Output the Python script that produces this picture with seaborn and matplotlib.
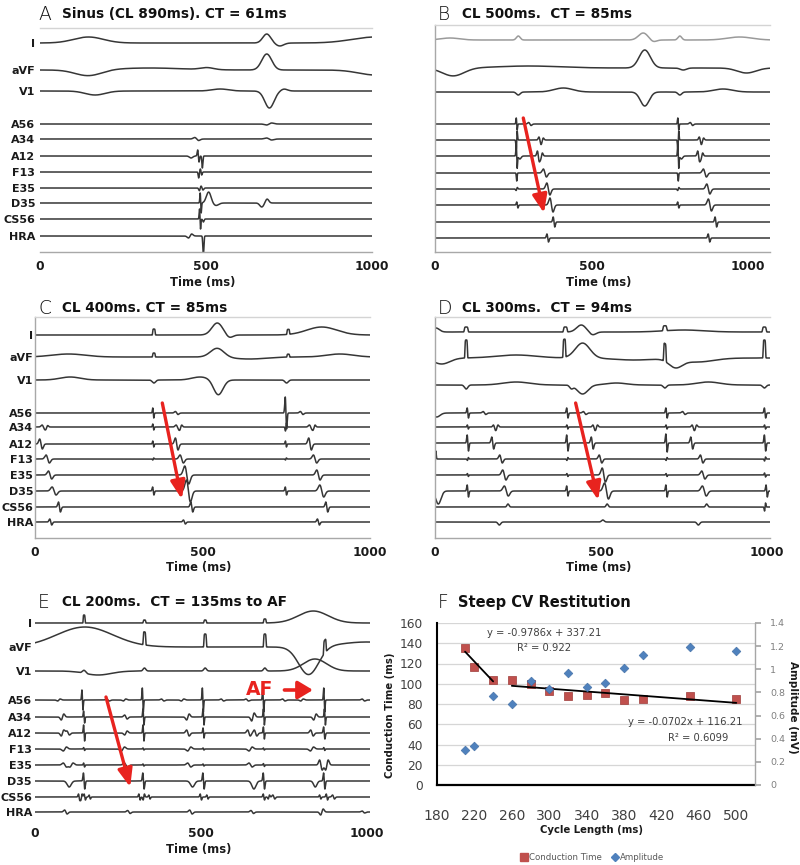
import numpy as np
import pandas as pd
import matplotlib
matplotlib.use("Agg")
import matplotlib.pyplot as plt
from matplotlib.lines import Line2D
import seaborn as sns

# ---------------------------------------------------------------- data
CHANNELS = ["I", "aVF", "V1", "A56", "A34", "A12", "F13", "E35", "D35", "CS56", "HRA"]

TITLES = {
    "A": "Sinus (CL 890ms). CT = 61ms",
    "B": "CL 500ms.  CT = 85ms",
    "C": "CL 400ms. CT = 85ms",
    "D": "CL 300ms.  CT = 94ms",
    "E": "CL 200ms.  CT = 135ms to AF",
    "F": "Steep CV Restitution",
}
TIME_TICKS = [0, 500, 1000]

# deflections: (time ms, amplitude px, width ms, kind)
# kind: g = smooth wave, d = biphasic deflection, p = pacing plateau
EVENTS_A = {
    "I":   [(146, 6, 45, "g"), (683, 9, 12, "g"), (722, -3, 12, "g"), (1010, 6, 70, "g")],
    "aVF": [(146, -6, 40, "g"), (330, 2, 100, "g"), (503, 2, 20, "g"), (683, 16, 15, "g"), (1010, -5, 50, "g")],
    "V1":  [(166, -4, 30, "g"), (543, 2, 25, "g"), (691, -17, 14, "g"), (735, 2, 10, "g")],
    "A56": [(690, -1, 8, "d")],
    "A34": [(472, 1.5, 6, "d"), (690, 1, 8, "d")],
    "A12": [(455, -2, 5, "g"), (477, 6, 2, "d"), (489, -12, 1.5, "g")],
    "F13": [(478, -6, 1.5, "g"), (485, 3, 2, "d")],
    "E35": [(480, -3, 2, "g"), (488, 2, 3, "d")],
    "D35": [(484, 10, 1.5, "d"), (508, 11, 7, "g"), (530, -2.5, 8, "g"), (668, -4, 6, "g"), (684, 4, 5, "g")],
    "CS56": [(482, 10, 1.5, "d"), (492, -3, 2, "g")],
    "HRA": [(452, -2, 5, "d"), (492, -20, 1.5, "g")],
}
EVENTS_B = {
    "I":   [(48, 2, 30, "g"), (266, 4, 6, "g"), (665, 7, 15, "g"), (697, -2, 10, "g"), (782, 4, 6, "g"), (973, 3, 40, "g")],
    "aVF": [(58, -8, 35, "g"), (300, 2, 100, "g"), (670, 18, 18, "g"), (793, -2, 10, "g"), (995, -5, 30, "g")],
    "V1":  [(266, -3, 6, "g"), (410, 4, 30, "g"), (670, -14, 14, "g"), (782, -3, 6, "g"), (920, 3, 30, "g")],
    "A56": [(261, 6, 1.5, "d"), (303, 1.5, 4, "d"), (777, 6, 1.5, "d"), (819, 1.5, 4, "d")],
    "A34": [(261, -9, 1.5, "d"), (335, 3, 3, "d"), (343, -2, 3, "d"), (777, -9, 1.5, "d"), (847, 3, 3, "d"), (855, -2, 3, "d")],
    "A12": [(261, 12, 1.5, "d"), (271, -3, 4, "g"), (330, 5, 3, "d"), (340, -3, 3, "d"),
            (777, 12, 1.5, "d"), (787, -3, 4, "g"), (842, 5, 3, "d"), (852, -3, 3, "d")],
    "F13": [(261, -8, 1.2, "g"), (351, 4, 5, "d"), (777, -8, 1.2, "g"), (862, 4, 5, "d")],
    "E35": [(261, -1.5, 2, "d"), (362, 6, 5, "d"), (777, -1.5, 2, "d"), (873, 5, 5, "d")],
    "D35": [(263, 3, 2, "d"), (372, 7, 5, "d"), (777, 3, 2, "d"), (878, 6, 5, "d")],
    "CS56": [(380, 5, 2.5, "d"), (897, 5, 2.5, "d")],
    "HRA": [(360, 4, 2.5, "d"), (875, 4, 2.5, "d")],
}
EVENTS_C = {
    "I":   [(355, 6, 4, "p"), (544, 12, 16, "g"), (580, -3, 10, "g"), (756, 5, 4, "p"), (856, 8, 45, "g")],
    "aVF": [(100, 3, 50, "g"), (355, 4, 4, "p"), (544, 9, 20, "g"), (640, -2, 50, "g"), (756, 3, 4, "p"), (910, 3, 40, "g")],
    "V1":  [(105, 3, 30, "g"), (355, -3, 5, "g"), (493, 3, 25, "g"), (547, -15, 14, "g"), (751, -3, 5, "g")],
    "A56": [(353, 5, 1.5, "d"), (423, 1.5, 4, "d"), (749, 16, 2, "d"), (796, 1.5, 4, "d")],
    "A34": [(25, 2, 4, "d"), (35, -1.5, 3, "d"), (353, 3, 1.5, "d"), (425, 2, 4, "d"), (435, -2, 3, "d"),
            (749, -4, 1.5, "d"), (823, 2, 4, "d"), (833, -2, 3, "d")],
    "A12": [(18, 5, 4, "d"), (353, 3, 1.5, "d"), (423, 6, 4, "d"), (749, 3, 1.5, "d"), (821, 6, 4, "d")],
    "F13": [(38, 4, 5, "d"), (353, -1, 1.5, "d"), (438, 4, 5, "d"), (749, -1, 1.5, "d"), (836, 4, 5, "d")],
    "E35": [(45, 4, 5, "d"), (453, 9, 6, "d"), (846, 5, 5, "d")],
    "D35": [(57, 4, 6, "d"), (353, 4, 2, "d"), (458, 11, 6, "d"), (749, 4, 2, "d"), (856, 6, 6, "d")],
    "CS56": [(73, 5, 3, "d"), (468, 5, 3, "d"), (871, 5, 3, "d")],
    "HRA": [(47, 3, 3, "d"), (446, 2, 3, "d"), (846, 3, 3, "d")],
}
EVENTS_D = {
    "I":   [(3, 4, 10, "g"), (94, 5, 6, "p"), (393, 5, 6, "p"), (441, 7, 14, "g"), (475, -3, 10, "g"),
            (693, 5, 6, "p"), (750, 2, 60, "g"), (993, 5, 6, "p")],
    "aVF": [(20, -6, 25, "g"), (94, 18, 4, "p"), (245, 3, 60, "g"), (390, 18, 4, "p"), (445, 15, 22, "g"),
            (600, -2, 60, "g"), (693, 18, 4, "p"), (725, -8, 20, "g"), (790, -4, 50, "g"), (993, 18, 4, "p")],
    "V1":  [(94, -4, 5, "g"), (245, 3, 40, "g"), (411, -3, 5, "g"), (445, -9, 16, "g"), (547, 2, 30, "g"),
            (693, -3, 5, "g"), (824, 3, 35, "g"), (993, -3, 5, "g")],
    "A56": [(5, -4, 10, "g"), (99, 5, 2, "d"), (149, 1.5, 4, "d"), (399, 5, 2, "d"), (451, 1.5, 4, "d"),
            (698, 5, 2, "d"), (750, 1.5, 4, "d"), (995, 5, 2, "d")],
    "A34": [(99, 2, 1.5, "d"), (179, 2, 3, "d"), (187, -2, 3, "d"), (399, 2, 1.5, "d"), (479, 2, 3, "d"),
            (487, -2, 3, "d"), (698, 2, 1.5, "d"), (778, 2, 3, "d"), (786, -2, 3, "d"), (995, 2, 1.5, "d")],
    "A12": [(99, 8, 2, "d"), (174, 6, 3, "d"), (399, 8, 2, "d"), (474, 6, 3, "d"), (698, 9, 2, "d"),
            (774, 6, 3, "d"), (995, 8, 2, "d")],
    "F13": [(1, -8, 1.5, "d"), (99, -1.5, 1.5, "d"), (199, 4, 4, "d"), (399, -1.5, 1.5, "d"), (499, 4, 4, "d"),
            (698, -1.5, 1.5, "d"), (804, 4, 4, "d"), (995, -2, 1.5, "d")],
    "E35": [(99, 1.5, 1.5, "d"), (209, 5, 5, "d"), (399, 1.5, 1.5, "d"), (509, 7, 5, "d"), (698, 1.5, 1.5, "d"),
            (809, 4, 5, "d"), (995, 2, 1.5, "d")],
    "D35": [(10, -13, 8, "g"), (99, 6, 2, "d"), (215, 5, 6, "d"), (399, 5, 2, "d"), (517, 8, 6, "d"),
            (698, 6, 2, "d"), (812, 5, 6, "d"), (1000, 6, 2, "d")],
    "CS56": [(220, 3, 3, "g"), (519, 3, 3, "g"), (819, 3, 3, "g"), (995, -4, 1.5, "d")],
    "HRA": [(194, -3, 4, "g"), (506, 2, 4, "g"), (794, -3, 4, "g")],
}
EVENTS_E = {
    "I":   [(148, 8, 3, "p"), (330, 3, 4, "p"), (513, 3, 4, "p"), (693, 4, 4, "p"), (839, 12, 45, "g")],
    "aVF": [(150, 20, 85, "g"), (330, 13, 4, "p"), (513, 13, 4, "p"), (693, 13, 4, "p"), (825, -28, 30, "g"),
            (874, 13, 4, "p"), (1000, 5, 80, "g")],
    "V1":  [(148, 3, 5, "g"), (190, -4, 40, "g"), (330, 3, 4, "g"), (513, 3, 4, "g"), (693, 3, 4, "g"), (844, 12, 35, "g")],
    "A56": [(72, -1, 4, "d"), (143, 10, 1.5, "d"), (220, 1, 4, "d"), (270, -1, 4, "d"), (325, 12, 1.5, "d"),
            (385, 1, 4, "d"), (445, -1, 4, "d"), (506, 12, 1.5, "d"), (565, 1, 4, "d"), (640, 1, 4, "d"),
            (688, 12, 1.5, "d"), (750, 1, 4, "d"), (805, -1, 4, "d"), (872, 12, 1.5, "d"), (990, 1, 4, "d")],
    "A34": [(83, -3, 4, "d"), (148, 6, 1.5, "d"), (274, 2, 4, "d"), (327, 8, 1.5, "d"), (461, -3, 4, "d"),
            (508, 8, 1.5, "d"), (657, -4, 4, "d"), (690, 8, 1.5, "d"), (844, -3, 4, "d"), (874, 8, 1.5, "d")],
    "A12": [(83, -3, 4, "d"), (100, 2, 4, "d"), (148, 8, 1.5, "d"), (274, -2, 4, "d"), (327, 8, 1.5, "d"),
            (461, 3, 4, "d"), (508, 5, 1.5, "d"), (645, 3, 4, "d"), (665, 3, 4, "d"), (690, 6, 1.5, "d"),
            (835, 3, 4, "d"), (872, 6, 2, "d")],
    "F13": [(90, -2, 5, "d"), (148, 1.5, 1.5, "d"), (265, -2, 5, "d"), (327, 1, 1.5, "d"), (465, -2, 5, "d"),
            (508, 1, 1.5, "d"), (650, -2, 5, "d"), (690, 1, 1.5, "d"), (835, -2, 5, "d"), (872, 1.5, 1.5, "d")],
    "E35": [(90, 2, 5, "d"), (110, -2, 5, "d"), (148, 2, 1.5, "d"), (274, 2, 5, "d"), (327, 1, 1.5, "d"),
            (465, 2, 5, "d"), (508, 1, 1.5, "d"), (650, 2, 5, "d"), (690, 1.5, 1.5, "d"), (862, 5, 4, "d"),
            (880, -5, 4, "d")],
    "D35": [(103, -6, 6, "g"), (148, 8, 2, "d"), (327, 8, 2, "d"), (475, -6, 6, "g"), (508, 8, 2, "d"),
            (660, -8, 6, "g"), (690, 8, 2, "d"), (845, -6, 5, "g"), (872, 8, 2, "d")],
    "CS56": [(133, 3, 2, "d"), (140, -3, 2, "d"), (150, 3, 2, "d"), (165, 2, 2, "d"), (315, 3, 2, "d"),
             (328, -3, 2, "d"), (345, 2, 2, "d"), (500, 3, 2, "d"), (520, 2, 2, "d"), (690, 3, 2, "d"),
             (705, -2, 2, "d"), (720, 2, 3, "d"), (860, 2, 2, "d"), (880, 3, 2, "d"), (900, 2, 3, "d")],
    "HRA": [(93, 2, 4, "d"), (283, 1.5, 4, "d"), (470, 2, 4, "d"), (655, 1.5, 4, "d"), (865, -3, 4, "d"), (990, 1, 4, "d")],
}

# panel F: restitution data
CYCLE_LENGTH = [210, 220, 240, 260, 280, 300, 320, 340, 360, 380, 400, 450, 500]
CONDUCTION_TIME = [135, 116.5, 104, 104, 100, 93, 88, 89, 91, 84, 85, 88, 85]
AMPLITUDE = [0.30, 0.34, 0.765, 0.70, 0.895, 0.83, 0.97, 0.85, 0.88, 1.01, 1.12, 1.19, 1.16]
TREND_STEEP = (-0.9786, 337.21, 210, 240)
TREND_FLAT = (-0.0702, 116.21, 260, 500)
TREND_TEXT = ["y = -0.9786x + 337.21", "R\u00b2 = 0.922", "y = -0.0702x + 116.21", "R\u00b2 = 0.6099"]
F_XTICKS = [180, 220, 260, 300, 340, 380, 420, 460, 500]
F_YTICKS = [0, 20, 40, 60, 80, 100, 120, 140, 160]
F_Y2TICKS = [0, 0.2, 0.4, 0.6, 0.8, 1.0, 1.2, 1.4]
F_Y2LABELS = ["0", "0.2", "0.4", "0.6", "0.8", "1", "1.2", "1.4"]

# ---------------------------------------------------------------- layout
W, H = 800, 865
sns.set_theme(style="white")
plt.rcParams["font.family"] = ["DejaVu Sans"]

fig = plt.figure(figsize=(W / 100, H / 100), dpi=100)
fig.patch.set_facecolor("white")


def add_ax(l, t, r, b):
    return fig.add_axes([l / W, 1 - b / H, (r - l) / W, (b - t) / H])


def synth(t, events):
    y = np.zeros_like(t)
    for t0, a, w, k in events:
        x = (t - t0) / w
        if k == "g":
            y += a * np.exp(-0.5 * x ** 2)
        elif k == "d":
            y += a * (-x) * np.exp(0.5 - 0.5 * x ** 2)
        else:
            y += a * np.exp(-x ** 6)
    return y


TRACE_C = "#363636"
RED = "#e8231f"

PANELS = [
    # letter, events, box (l,t,r,b), xmax, baselines, spines, labels x, arrow
    ("A", EVENTS_A, (40, 28, 372, 252), 1000,
     [43, 70, 91, 124, 139, 156, 172, 188, 203, 219, 236], ("top", "bottom"), 35, None),
    ("B", EVENTS_B, (435, 25, 770, 252), 1070,
     [40, 68, 92, 124, 140, 156, 173, 189, 205, 222, 238], ("top", "left", "bottom"), None,
     ((282, 118), (348, 213))),
    ("C", EVENTS_C, (35, 317, 370, 538), 1000,
     [335, 357, 380, 413, 427, 444, 459, 475, 491, 507, 522], ("top", "left", "bottom"), 33,
     ((380, 403), (438, 499))),
    ("D", EVENTS_D, (435, 317, 770, 538), 1010,
     [332, 358, 385, 413, 427, 443, 459, 475, 491, 507, 522], ("top", "left", "bottom"), None,
     ((424, 403), (492, 500))),
    ("E", EVENTS_E, (35, 607, 370, 825), 1010,
     [623, 647, 671, 700, 717, 733, 749, 765, 781, 797, 812], (), 32,
     ((214, 697), (287, 787))),
]
LABEL_Y = {"A": 282, "B": 282, "C": 567, "D": 567, "E": 850}
TITLE_Y = {"A": 14, "B": 14, "C": 308, "D": 308, "E": 602, "F": 602}
TITLE_X = {"A": 38, "B": 438, "C": 38, "D": 438, "E": 38, "F": 438}

for letter, events, (l, t, r, b), xmax, bases, spines, lab_x, arrow in PANELS:
    ax = add_ax(l, t, r, b)
    tt = np.arange(0, xmax + 0.25, 0.25)
    frames = []
    for ch, base in zip(CHANNELS, bases):
        frames.append(pd.DataFrame({"t": tt, "y": base - synth(tt, events[ch]), "ch": ch}))
    df = pd.concat(frames, ignore_index=True)
    pal = {ch: TRACE_C for ch in CHANNELS}
    if letter == "B":
        pal["I"] = "#9a9a9a"
    sns.lineplot(data=df, x="t", y="y", hue="ch", palette=pal, estimator=None, sort=False,
                 lw=1.1, legend=False, ax=ax)
    ax.set_xlim(0, xmax)
    ax.set_ylim(b, t)
    ax.set_facecolor("none")
    for s in ("top", "left", "right", "bottom"):
        ax.spines[s].set_visible(s in spines)
    ax.spines["top"].set_color("#d4d4d4")
    ax.spines["left"].set_color("#a8a8a8")
    ax.spines["bottom"].set_color("#a8a8a8")
    for s in ax.spines.values():
        s.set_linewidth(1.0)
    ax.set_yticks([])
    ax.set_xticks(TIME_TICKS)
    ax.set_xticklabels([str(v) for v in TIME_TICKS], fontweight="bold", fontsize=8.8, color="#1a1a1a")
    ax.tick_params(axis="x", length=(3 if spines else 0), color="#a8a8a8", pad=(3 if spines else 1.5))
    ax.set_ylabel("")
    ax.set_xlabel("Time (ms)", fontweight="bold", fontsize=8.3, color="#1a1a1a")
    ax.xaxis.set_label_coords(0.49, (b - LABEL_Y[letter]) / (b - t))
    ax.xaxis.label.set_va("center")
    if lab_x is not None:
        for ch, base in zip(CHANNELS, bases):
            fig.text(lab_x / W, 1 - (base + 1) / H, ch, ha="right", va="center",
                     fontsize=8, fontweight="bold", color="#1a1a1a")
    if arrow is not None:
        ax.annotate("", xy=arrow[1], xytext=arrow[0],
                    arrowprops=dict(arrowstyle="-|>,head_length=0.55,head_width=0.22", color=RED,
                                    lw=2.4, shrinkA=0, shrinkB=0, mutation_scale=20))
    if letter == "E":
        ax.text(677, 690, "AF", color=RED, fontsize=13.5, fontweight="bold", ha="center", va="center")
        ax.annotate("", xy=(838, 690), xytext=(752, 690),
                    arrowprops=dict(arrowstyle="-|>,head_length=0.5,head_width=0.3", color=RED,
                                    lw=2.6, shrinkA=0, shrinkB=0, mutation_scale=18))

# titles
for letter in "ABCDEF":
    x0 = TITLE_X[letter] / W
    y0 = 1 - TITLE_Y[letter] / H
    fig.text(x0, y0, letter, fontsize=13.5, fontweight="light", color="#111111", ha="left", va="center")
    fig.text(x0 + 24 / W if letter != "F" else x0 + 20 / W, y0, TITLES[letter],
             fontsize=(9.8 if letter != "F" else 10.5), fontweight="bold", color="#111111",
             ha="left", va="center")

# ---------------------------------------------------------------- panel F
axf = add_ax(437, 623, 755, 785)
axf2 = axf.twinx()
axf.set_xlim(180, 520)
axf.set_ylim(0, 160)
axf2.set_ylim(0, 1.4)
axf.yaxis.grid(True, color="#d6d6d6", lw=0.9)
axf.set_axisbelow(True)

sns.scatterplot(x=CYCLE_LENGTH, y=CONDUCTION_TIME, marker="s", color="#c0504d", edgecolor="#9e3b38",
                linewidth=0.5, s=34, ax=axf, zorder=3)
sns.scatterplot(x=CYCLE_LENGTH, y=AMPLITUDE, marker="D", color="#4f81bd", edgecolor="#3c6aa0",
                linewidth=0.4, s=20, ax=axf2, zorder=3)
for m, c, x0, x1 in (TREND_STEEP, TREND_FLAT):
    xs = np.array([x0, x1], dtype=float)
    sns.lineplot(x=xs, y=m * xs + c, color="black", lw=1.3, ax=axf, zorder=4)

axf.set_xticks(F_XTICKS)
axf.set_xticklabels([str(v) for v in F_XTICKS], fontsize=10, color="#404040")
axf.set_yticks(F_YTICKS)
axf.set_yticklabels([str(v) for v in F_YTICKS], fontsize=8.8, color="#404040")
axf.tick_params(axis="x", length=0, pad=17)
axf.tick_params(axis="y", length=0, pad=10)
axf2.set_yticks(F_Y2TICKS)
axf2.set_yticklabels(F_Y2LABELS, fontsize=6.8, color="#7f7f7f")
axf2.tick_params(axis="y", length=4, color="#a6a6a6", direction="out", pad=7, right=True)
for a in (axf, axf2):
    for s in a.spines.values():
        s.set_visible(False)
axf.spines["left"].set_visible(True)
axf.spines["left"].set_color("#000000")
axf.spines["left"].set_linewidth(1.5)
axf.spines["bottom"].set_visible(True)
axf.spines["bottom"].set_color("#000000")
axf.spines["bottom"].set_linewidth(1.6)
axf2.spines["right"].set_visible(True)
axf2.spines["right"].set_color("#a6a6a6")
axf2.spines["right"].set_linewidth(1.0)

axf.set_xlabel("Cycle Length (ms)", fontsize=7.3, fontweight="bold", color="#1a1a1a")
axf.xaxis.set_label_coords(0.487, -0.278)
axf.xaxis.label.set_va("center")
axf.set_ylabel("Conduction Time (ms)", fontsize=7.3, fontweight="bold", color="#1a1a1a")
axf.yaxis.set_label_coords(-0.148, 0.43)
axf.yaxis.label.set_va("center")
axf2.set_ylabel("Amplitude (mV)", fontsize=7.5, fontweight="bold", color="#1a1a1a", rotation=270)
axf2.yaxis.set_label_coords(1.12, 0.48)
axf2.yaxis.label.set_va("center")

txt_c = "#404040"
axf.text(295, 150, TREND_TEXT[0], fontsize=7.2, color=txt_c, ha="center", va="center", zorder=5)
axf.text(295, 135, TREND_TEXT[1], fontsize=7.2, color=txt_c, ha="center", va="center", zorder=5)
axf.text(507, 62, TREND_TEXT[2], fontsize=7.2, color=txt_c, ha="right", va="center", zorder=5)
axf.text(491, 46, TREND_TEXT[3], fontsize=7.2, color=txt_c, ha="right", va="center", zorder=5)

handles = [Line2D([], [], marker="s", ls="", color="#c0504d", markersize=5.5),
           Line2D([], [], marker="D", ls="", color="#4f81bd", markersize=4)]
fig.legend(handles, ["Conduction Time", "Amplitude"], loc="center", bbox_to_anchor=(592 / W, 1 - 858 / H),
           ncol=2, frameon=False, fontsize=6.2, labelcolor="#595959", handletextpad=0.1,
           columnspacing=1.0, handlelength=1.0)

fig.savefig("out.png", dpi=100, facecolor="white")
